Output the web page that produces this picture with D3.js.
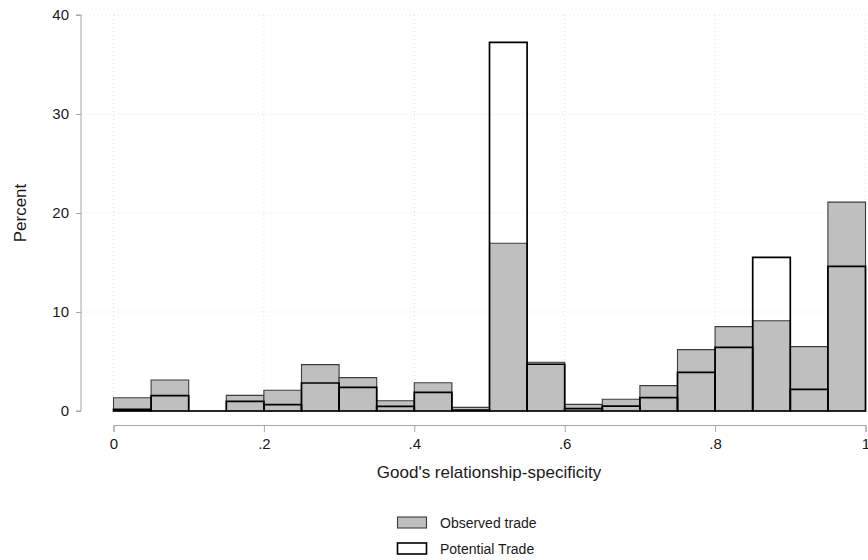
<!DOCTYPE html>
<html>
<head>
<meta charset="utf-8">
<script src="https://cdn.jsdelivr.net/npm/d3@7"></script>
<style>
  html, body { margin: 0; padding: 0; background: #fff; }
  svg { display: block; font-family: "Liberation Sans", Arial, sans-serif; }
</style>
</head>
<body>
<svg id="chart" width="868" height="560"></svg>
<script>
// Bin starts (width 0.05)
const binStarts = [0, 0.05, 0.10, 0.15, 0.20, 0.25, 0.30, 0.35, 0.40, 0.45,
                   0.50, 0.55, 0.60, 0.65, 0.70, 0.75, 0.80, 0.85, 0.90, 0.95];
const binWidth = 0.05;
// Percent per bin
const observedTrade = [1.34, 3.13, 0.0, 1.58, 2.09, 4.68, 3.37, 1.04, 2.86, 0.37,
                       16.94, 4.92, 0.67, 1.18, 2.56, 6.2, 8.52, 9.12, 6.5, 21.1];
const potentialTrade = [0.17, 1.55, 0.0, 0.98, 0.64, 2.83, 2.39, 0.47, 1.89, 0.1,
                        37.24, 4.72, 0.25, 0.5, 1.35, 3.9, 6.43, 15.52, 2.19, 14.6];
const xTicks = [0, 0.2, 0.4, 0.6, 0.8, 1];
const xTickLabels = ["0", ".2", ".4", ".6", ".8", "1"];
const yTicks = [0, 10, 20, 30, 40];
const seriesNames = ["Observed trade", "Potential Trade"];

const svg = d3.select("#chart");
const x = d3.scaleLinear().domain([0, 1]).range([113.5, 865.5]);
const y = d3.scaleLinear().domain([0, 40]).range([411, 15]);

// gridlines
const grid = svg.append("g");
grid.selectAll(".hg").data(yTicks.filter(d => d > 0)).join("line")
  .attr("x1", 82).attr("x2", 866)
  .attr("y1", d => y(d)).attr("y2", d => y(d))
  .attr("stroke", "#e2e2e2").attr("stroke-width", 1).attr("stroke-dasharray", "1,3");
grid.selectAll(".vg").data(xTicks).join("line")
  .attr("x1", d => x(d)).attr("x2", d => x(d))
  .attr("y1", y(40)).attr("y2", y(0))
  .attr("stroke", "#e2e2e2").attr("stroke-width", 1).attr("stroke-dasharray", "1,3");

function barPath(d, v) {
  const x0 = x(d), x1 = x(d + binWidth), y0 = y(0), y1 = y(v);
  return `M${x0},${y0}V${y1}H${x1}V${y0}Z`;
}

// observed bars (filled)
svg.append("g").selectAll("path").data(binStarts).join("path")
  .attr("d", (d, i) => barPath(d, observedTrade[i]))
  .attr("fill", "#bfbfbf").attr("stroke", "#3c3c3c").attr("stroke-width", 1.1);

// potential bars (outline only)
svg.append("g").selectAll("path").data(binStarts).join("path")
  .attr("d", (d, i) => barPath(d, potentialTrade[i]))
  .attr("fill", "none").attr("stroke", "#000").attr("stroke-width", 1.7);

// y axis
const yAxis = d3.axisLeft(y).tickValues(yTicks).tickSize(5).tickPadding(7);
const gy = svg.append("g").attr("transform", "translate(81,0)").call(yAxis);
gy.select(".domain").attr("stroke", "#a6a6a6").attr("d", `M-5,${y(40)}H0V${y(0)}H-5`).attr("fill", "none");
gy.selectAll(".tick line").attr("stroke", "#a6a6a6");
gy.selectAll(".tick text").attr("font-size", 15).attr("fill", "#1a1a1a")
  .attr("font-family", "Liberation Sans, Arial, sans-serif");

// x axis
const xAxis = d3.axisBottom(x).tickValues(xTicks).tickFormat((d, i) => xTickLabels[i]).tickSize(7).tickPadding(6);
const gx = svg.append("g").attr("transform", "translate(0,425)").call(xAxis);
gx.select(".domain").attr("stroke", "#a6a6a6");
gx.selectAll(".tick line").attr("stroke", "#a6a6a6");
gx.selectAll(".tick text").attr("font-size", 15).attr("fill", "#1a1a1a")
  .attr("font-family", "Liberation Sans, Arial, sans-serif");

// axis titles
svg.append("text").attr("x", 489).attr("y", 478).attr("text-anchor", "middle")
  .attr("font-size", 17).attr("fill", "#1a1a1a").text("Good's relationship-specificity");
svg.append("text").attr("transform", "translate(26,213) rotate(-90)").attr("text-anchor", "middle")
  .attr("font-size", 17).attr("fill", "#1a1a1a").text("Percent");

// legend
const legend = svg.append("g");
const legendItems = [
  {name: seriesNames[0], fill: "#bfbfbf", stroke: "#3c3c3c", sw: 1.1},
  {name: seriesNames[1], fill: "none", stroke: "#000", sw: 1.6}
];
legendItems.forEach((d, i) => {
  const ly = 517 + i * 26;
  legend.append("rect").attr("x", 397.5).attr("y", ly).attr("width", 29).attr("height", 11)
    .attr("fill", d.fill).attr("stroke", d.stroke).attr("stroke-width", d.sw);
  legend.append("text").attr("x", 440).attr("y", ly + 10.5).attr("font-size", 14)
    .attr("fill", "#1a1a1a").text(d.name);
});
</script>
</body>
</html>
